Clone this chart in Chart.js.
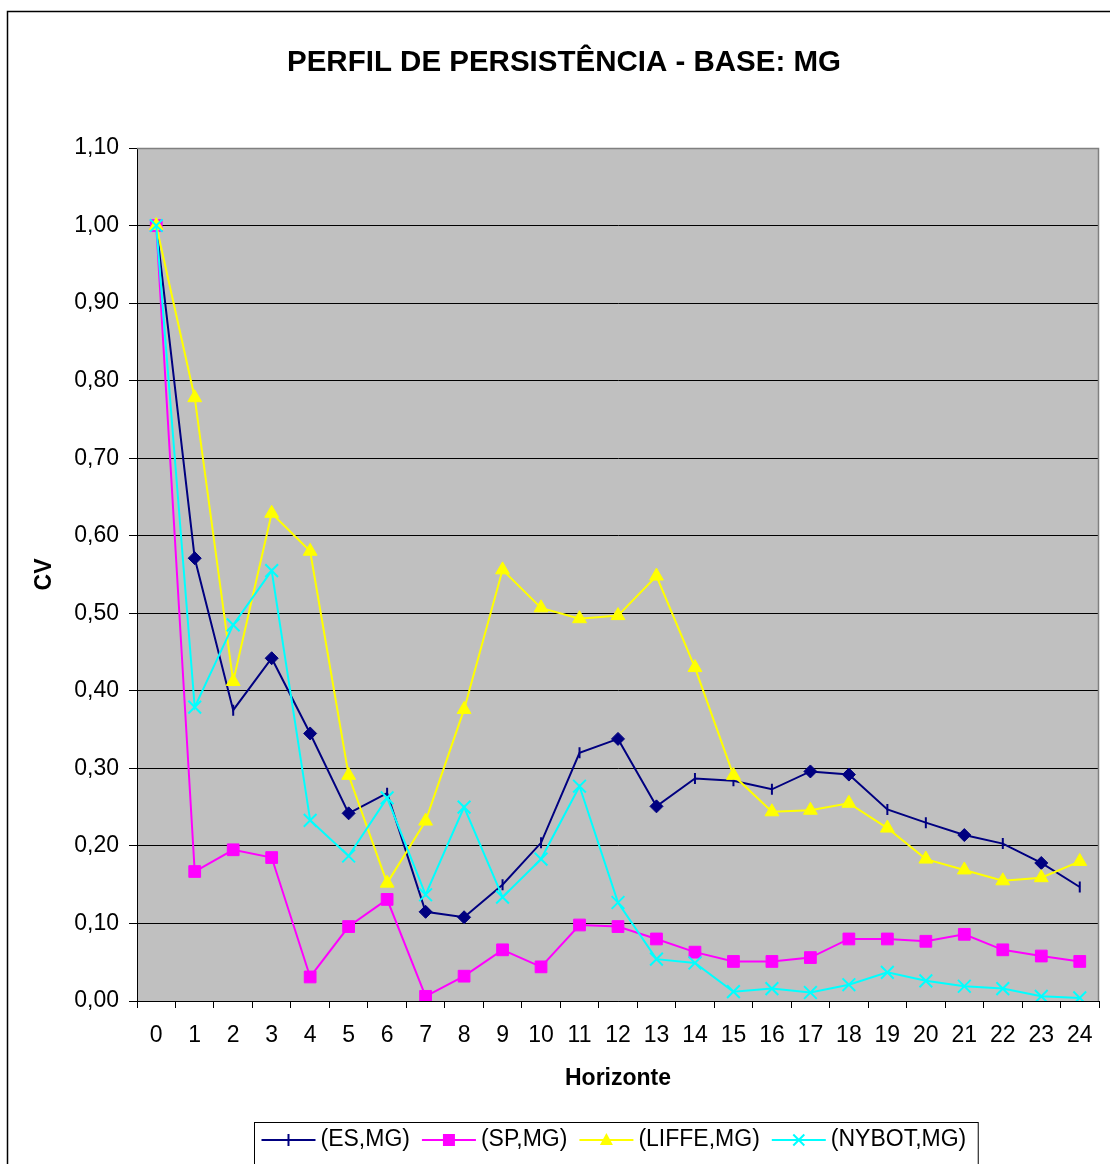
<!DOCTYPE html>
<html>
<head>
<meta charset="utf-8">
<title>Perfil de persistência - base MG</title>
<script src="https://cdn.jsdelivr.net/npm/chart.js@4/dist/chart.umd.min.js"></script>
<style>
  html, body { margin: 0; padding: 0; background: #fff; overflow: hidden; }
  #c { display: block; }
</style>
</head>
<body>
<canvas id="c" width="1110" height="1164"></canvas>
<script>
// Horizon (categories on the x axis)
const horizons = ['0','1','2','3','4','5','6','7','8','9','10','11','12','13','14','15','16','17','18','19','20','21','22','23','24'];

// CV per horizon for each pair of markets
const esMg    = [1.00, 0.571, 0.375, 0.442, 0.345, 0.242, 0.268, 0.115, 0.108, 0.150, 0.204, 0.320, 0.338, 0.251, 0.287, 0.284, 0.273, 0.296, 0.292, 0.247, 0.230, 0.214, 0.203, 0.178, 0.147];
const spMg    = [1.00, 0.167, 0.195, 0.185, 0.031, 0.096, 0.131, 0.006, 0.032, 0.066, 0.044, 0.098, 0.096, 0.080, 0.063, 0.051, 0.051, 0.056, 0.080, 0.080, 0.077, 0.086, 0.066, 0.058, 0.051];
const liffeMg = [1.00, 0.778, 0.412, 0.629, 0.580, 0.291, 0.152, 0.232, 0.376, 0.556, 0.507, 0.493, 0.497, 0.548, 0.430, 0.291, 0.244, 0.246, 0.255, 0.223, 0.183, 0.169, 0.155, 0.159, 0.180];
const nybotMg = [1.00, 0.379, 0.485, 0.555, 0.233, 0.187, 0.262, 0.137, 0.250, 0.134, 0.183, 0.277, 0.127, 0.054, 0.049, 0.012, 0.016, 0.011, 0.021, 0.037, 0.026, 0.019, 0.016, 0.006, 0.004];

// Series names
const seriesLabels = ['(ES,MG)', '(SP,MG)', '(LIFFE,MG)', '(NYBOT,MG)'];

// Marker kind for every point of the (ES,MG) line: 'd' = diamond, 't' = vertical tick
const esMarkerKinds = ['t','d','t','d','d','d','t','d','d','t','t','t','d','d','t','t','t','d','d','t','t','d','t','d','t'];

const FONT = "'Liberation Sans', Arial, Helvetica, sans-serif";
Chart.defaults.font.family = FONT;
Chart.defaults.color = '#000';

const esStyle    = esMarkerKinds.map(k => k === 'd' ? 'rectRot' : 'line');
const esRotation = esMarkerKinds.map(k => k === 'd' ? 0 : 90);
const esRadius   = esMarkerKinds.map(k => k === 'd' ? 6.5 : 5.5);
const esBorderW  = esMarkerKinds.map(k => k === 'd' ? 1 : 2);

function fmtComma(v) {
  return (Math.round(v * 100) / 100).toFixed(2).replace('.', ',');
}

// Small marker painter used by the legend
function drawMarker(ctx, kind, x, y, color) {
  ctx.save();
  ctx.strokeStyle = color;
  ctx.fillStyle = color;
  ctx.lineWidth = 2;
  ctx.beginPath();
  if (kind === 'tick') {
    ctx.moveTo(x, y - 6); ctx.lineTo(x, y + 6); ctx.stroke();
  } else if (kind === 'square') {
    ctx.fillRect(x - 6, y - 6, 12, 12);
  } else if (kind === 'triangle') {
    ctx.moveTo(x, y - 7); ctx.lineTo(x + 6.5, y + 5); ctx.lineTo(x - 6.5, y + 5); ctx.closePath(); ctx.fill();
  } else if (kind === 'cross') {
    ctx.moveTo(x - 5.5, y - 5.5); ctx.lineTo(x + 5.5, y + 5.5);
    ctx.moveTo(x + 5.5, y - 5.5); ctx.lineTo(x - 5.5, y + 5.5);
    ctx.stroke();
  }
  ctx.restore();
}

const legendMarkerKinds = ['tick', 'square', 'triangle', 'cross'];

const framePlugin = {
  id: 'frame',
  beforeDraw(chart) {
    const { ctx, chartArea: a, width, height } = chart;
    ctx.save();
    ctx.fillStyle = '#fff';
    ctx.fillRect(0, 0, width, height);
    ctx.strokeStyle = '#000';
    ctx.lineWidth = 1.5;
    ctx.strokeRect(7.5, 11.5, width + 20, height + 20);
    ctx.fillStyle = '#C0C0C0';
    ctx.fillRect(a.left, a.top, a.right - a.left, a.bottom - a.top);
    ctx.restore();
  },
  beforeDatasetsDraw(chart) {
    const { ctx, chartArea: a } = chart;
    ctx.save();
    ctx.strokeStyle = '#808080';
    ctx.lineWidth = 1.5;
    ctx.beginPath();
    ctx.moveTo(a.left, a.top + 0.5);
    ctx.lineTo(a.right - 0.5, a.top + 0.5);
    ctx.lineTo(a.right - 0.5, a.bottom);
    ctx.stroke();
    ctx.restore();
  },
  afterDraw(chart) {
    // Boxed legend under the axis title: line sample with marker, then the name
    const { ctx, chartArea: a } = chart;
    const ds = chart.data.datasets;
    ctx.save();
    ctx.font = '23px ' + FONT;
    const lineLen = 54, gapText = 5, gapItem = 12, padL = 7, padR = 12;
    const widths = ds.map(d => ctx.measureText(d.label).width);
    let total = 0;
    widths.forEach((w, i) => { total += lineLen + gapText + w + (i ? gapItem : 0); });
    const boxW = total + padL + padR;
    const boxLeft = Math.round((a.left + a.right) / 2 - boxW / 2 - 2) + 0.5;
    const boxTop = 1122.5;
    ctx.strokeStyle = '#000';
    ctx.lineWidth = 1;
    ctx.strokeRect(boxLeft, boxTop, boxW, 80);
    const cy = 1140;
    let x = boxLeft + padL;
    ds.forEach((d, i) => {
      ctx.strokeStyle = d.borderColor;
      ctx.lineWidth = 2;
      ctx.beginPath();
      ctx.moveTo(x, cy); ctx.lineTo(x + lineLen, cy); ctx.stroke();
      drawMarker(ctx, legendMarkerKinds[i], x + lineLen / 2, cy, d.borderColor);
      ctx.fillStyle = '#000';
      ctx.textBaseline = 'middle';
      ctx.textAlign = 'left';
      ctx.fillText(d.label, x + lineLen + gapText, cy);
      x += lineLen + gapText + widths[i] + gapItem;
    });
    ctx.restore();
  }
};

new Chart(document.getElementById('c'), {
  type: 'line',
  data: {
    labels: horizons,
    datasets: [
      {
        label: seriesLabels[0], data: esMg, order: 3,
        borderColor: '#000080', backgroundColor: '#000080', borderWidth: 2,
        pointStyle: esStyle, pointRotation: esRotation, pointRadius: esRadius,
        pointBorderWidth: esBorderW, pointBackgroundColor: '#000080', pointBorderColor: '#000080',
        tension: 0
      },
      {
        label: seriesLabels[1], data: spMg, order: 2,
        borderColor: '#FF00FF', backgroundColor: '#FF00FF', borderWidth: 2,
        pointStyle: 'rect', pointRadius: 8.3, pointBorderWidth: 1,
        pointBackgroundColor: '#FF00FF', pointBorderColor: '#FF00FF', tension: 0
      },
      {
        label: seriesLabels[2], data: liffeMg, order: 1,
        borderColor: '#FFFF00', backgroundColor: '#FFFF00', borderWidth: 2,
        pointStyle: 'triangle', pointRadius: 8, pointBorderWidth: 1,
        pointBackgroundColor: '#FFFF00', pointBorderColor: '#FFFF00', tension: 0
      },
      {
        label: seriesLabels[3], data: nybotMg, order: 0,
        borderColor: '#00FFFF', backgroundColor: '#00FFFF', borderWidth: 2,
        pointStyle: 'crossRot', pointRadius: 9, pointBorderWidth: 2,
        pointBackgroundColor: '#00FFFF', pointBorderColor: '#00FFFF', tension: 0
      }
    ]
  },
  options: {
    responsive: false,
    animation: false,
    devicePixelRatio: 1,
    layout: { padding: { left: 26, right: 8, top: 0, bottom: 0 } },
    plugins: {
      legend: { display: false },
      tooltip: { enabled: false },
      title: {
        display: true,
        text: 'PERFIL DE PERSISTÊNCIA - BASE: MG',
        color: '#000',
        font: { size: 29.5, weight: 'bold' },
        padding: { top: 45, bottom: 67.6 }
      }
    },
    scales: {
      x: {
        type: 'category',
        offset: true,
        grid: { offset: true, drawOnChartArea: false, drawTicks: true, tickLength: 7, color: '#000', lineWidth: 1 },
        border: { display: true, color: '#000', width: 1 },
        ticks: { font: { size: 23 }, color: '#000', padding: 14, maxRotation: 0, autoSkip: false },
        title: { display: true, text: 'Horizonte', color: '#000', font: { size: 23, weight: 'bold' }, padding: { top: 0, bottom: 72 } },
        afterFit(scale) { scale.height = 163; }
      },
      y: {
        min: 0, max: 1.1,
        grid: { color: '#000', lineWidth: 1, drawTicks: true, tickLength: 8 },
        border: { display: true, color: '#000', width: 1 },
        ticks: { stepSize: 0.1, font: { size: 23 }, color: '#000', padding: 10, callback: v => fmtComma(v) },
        title: { display: true, text: 'CV', color: '#000', font: { size: 23, weight: 'bold' }, padding: { top: 5, bottom: 0 } },
        afterFit(scale) { scale.width = 111; }
      }
    }
  },
  plugins: [framePlugin]
});
</script>
</body>
</html>
